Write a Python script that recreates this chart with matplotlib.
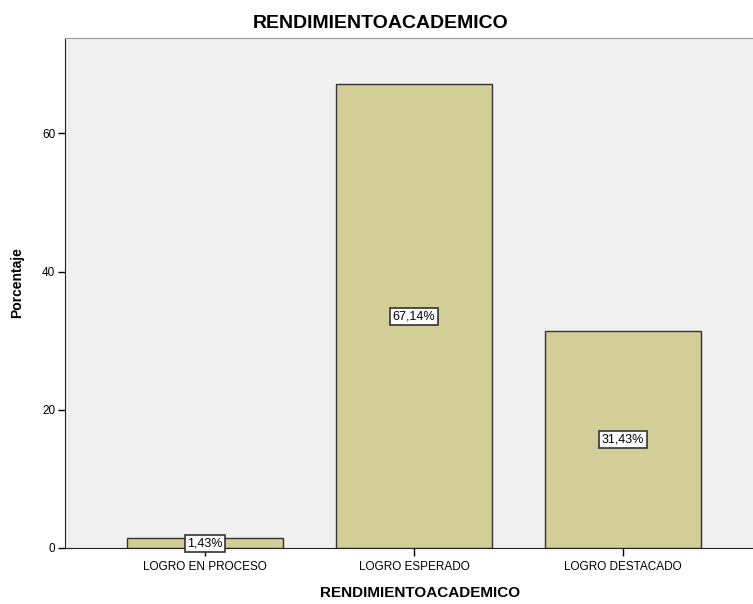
import matplotlib.pyplot as plt

plt.rcParams['font.family'] = ['Liberation Sans', 'DejaVu Sans']

categories = ['LOGRO EN PROCESO', 'LOGRO ESPERADO', 'LOGRO DESTACADO']
percentages = [1.43, 67.14, 31.43]
y_ticks = [0, 20, 40, 60]

fig = plt.figure(figsize=(7.53, 6.04), dpi=100)
ax = fig.add_axes([65 / 753, 1 - 548 / 604, (763 - 65) / 753, (548 - 38) / 604])
ax.set_facecolor('#F0F0F0')

x = range(len(categories))
ax.bar(x, percentages, width=0.75, color='#D3CE98', edgecolor='#333333', linewidth=1)

for xi, v in zip(x, percentages):
    ax.text(xi, v / 2, f"{v:.2f}%".replace('.', ','), ha='center', va='center', fontsize=9,
            bbox=dict(boxstyle='square,pad=0.2', facecolor='white', edgecolor='#333333', linewidth=1.2))

ax.set_xlim(-0.67, 2.67)
ax.set_ylim(0, 73.8)
ax.set_xticks(list(x))
ax.set_xticklabels(categories, fontsize=8.5)
ax.set_yticks(y_ticks)
ax.tick_params(axis='y', labelsize=8.5, length=5, width=1, pad=2)
ax.tick_params(axis='x', length=6, width=1, pad=3)

ax.spines['right'].set_visible(False)
ax.spines['top'].set_color('#999999')
ax.spines['left'].set_color('#222222')
ax.spines['bottom'].set_color('#222222')

# SPSS centres the title on the whole chart, not the plot area
fig.text(381 / 753, 1 - 24 / 604, 'RENDIMIENTOACADEMICO', fontsize=14, fontweight='bold',
         ha='center', va='center')
ax.set_xlabel('RENDIMIENTOACADEMICO', fontsize=11, fontweight='bold', labelpad=8)
ax.xaxis.set_label_coords(0.5 + 6 / 698, -0.075)
ax.set_ylabel('Porcentaje', fontsize=10, fontweight='bold')
ax.yaxis.set_label_coords(-0.059, 0.52)

fig.savefig('out.png', dpi=100)
